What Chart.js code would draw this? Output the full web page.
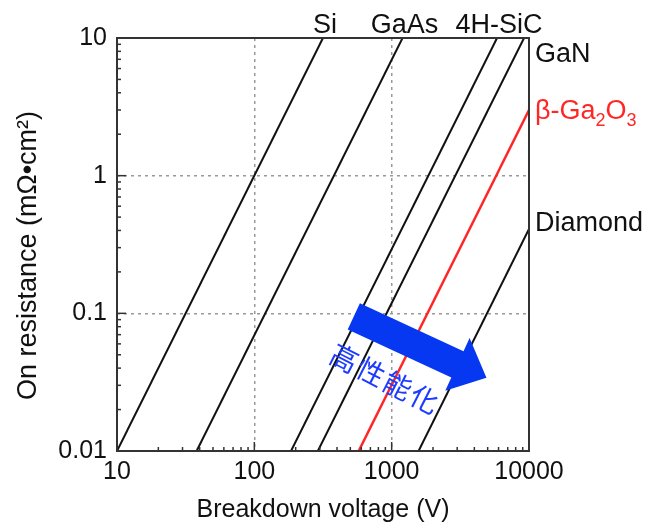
<!DOCTYPE html>
<html>
<head>
<meta charset="utf-8">
<script src="https://cdn.jsdelivr.net/npm/chart.js@4.4.1/dist/chart.umd.min.js"></script>
<style>
  html, body { margin: 0; padding: 0; background: #fff; }
  #wrap { width: 646px; height: 527px; }
</style>
</head>
<body>
<div id="wrap"><canvas id="chart"></canvas></div>
<script>
// Unipolar limit lines: start and end of each line
const materials = ['Si', 'GaAs', '4H-SiC', 'GaN', 'β-Ga2O3', 'Diamond'];
const startV = [10, 38, 185, 290, 575, 1570];      // V
const startR = [0.01, 0.01, 0.01, 0.01, 0.01, 0.01]; // mΩ·cm²
const endV = [316, 1200, 5850, 9200, 10000, 10000];
const endR = [10, 10, 10, 10, 3.0, 0.41];

const xTicks = [10, 100, 1000, 10000];
const yTicks = [0.01, 0.1, 1, 10];

// the blue "improvement" arrow and its caption, in data units
const arrowFrom = [530, 0.095];
const arrowTo = [4900, 0.034];
const arrowText = '高性能化';
const arrowTextAt = [900, 0.0334];

const RED = '#ff2626';
const INK = '#111';
const BLUE = '#0638f2';
const FONT = "'Liberation Sans', Arial, sans-serif";

Chart.defaults.font.family = FONT;
Chart.defaults.font.size = 25;
Chart.defaults.color = INK;

const datasets = materials.map((m, i) => ({
    label: m,
    data: [{ x: startV[i], y: startR[i] }, { x: endV[i], y: endR[i] }],
    borderColor: m.startsWith('β') ? RED : INK,
    borderWidth: m.startsWith('β') ? 2.5 : 2,
    pointRadius: 0,
    showLine: true,
    fill: false
}));

const extras = {
    id: 'extras',
    afterDatasetsDraw(chart) {
        const ctx = chart.ctx;
        const xs = chart.scales.x, ys = chart.scales.y;
        const a = chart.chartArea;

        // minor + major ticks on the inside of left and bottom axes
        ctx.save();
        ctx.strokeStyle = '#333';
        ctx.lineWidth = 1.5;
        for (let d = 10; d < 10000; d *= 10) {
            for (let m = 1; m < 10; m++) {
                const px = xs.getPixelForValue(d * m);
                const len = m === 1 ? 9 : 4;
                ctx.beginPath();
                ctx.moveTo(px, a.bottom);
                ctx.lineTo(px, a.bottom - len);
                ctx.stroke();
            }
        }
        for (let d = 0.01; d < 10; d *= 10) {
            for (let m = 1; m < 10; m++) {
                const py = ys.getPixelForValue(d * m);
                const len = m === 1 ? 9 : 4;
                ctx.beginPath();
                ctx.moveTo(a.left, py);
                ctx.lineTo(a.left + len, py);
                ctx.stroke();
            }
        }
        // plot frame
        ctx.lineWidth = 2;
        ctx.strokeRect(a.left, a.top, a.right - a.left, a.bottom - a.top);
        ctx.restore();

        // arrow
        const x0 = xs.getPixelForValue(arrowFrom[0]), y0 = ys.getPixelForValue(arrowFrom[1]);
        const x1 = xs.getPixelForValue(arrowTo[0]), y1 = ys.getPixelForValue(arrowTo[1]);
        const ang = Math.atan2(y1 - y0, x1 - x0);
        const L = Math.hypot(x1 - x0, y1 - y0);
        const sw = 14.5, hw = 29, hl = 32;
        ctx.save();
        ctx.translate(x0, y0);
        ctx.rotate(ang);
        ctx.fillStyle = BLUE;
        ctx.beginPath();
        ctx.moveTo(0, -sw);
        ctx.lineTo(L - hl, -sw);
        ctx.lineTo(L - hl, -hw);
        ctx.lineTo(L, 0);
        ctx.lineTo(L - hl, hw);
        ctx.lineTo(L - hl, sw);
        ctx.lineTo(0, sw);
        ctx.closePath();
        ctx.fill();
        ctx.restore();

        // caption
        ctx.save();
        ctx.translate(xs.getPixelForValue(arrowTextAt[0]), ys.getPixelForValue(arrowTextAt[1]));
        ctx.rotate(27 * Math.PI / 180);
        ctx.fillStyle = '#1c3cff';
        ctx.font = "28px 'Noto Sans CJK JP'";
        ctx.textAlign = 'center';
        ctx.textBaseline = 'middle';
        if ('letterSpacing' in ctx) ctx.letterSpacing = '2px';
        ctx.fillText(arrowText, 0, 0);
        ctx.restore();

        // y axis title (drawn here so it can sit a little below centre like the original)
        ctx.save();
        ctx.translate(29, (a.top + a.bottom) / 2 + 11);
        ctx.rotate(-Math.PI / 2);
        ctx.font = '27px ' + FONT;
        ctx.fillStyle = INK;
        ctx.textAlign = 'center';
        ctx.textBaseline = 'middle';
        ctx.fillText('On resistance (mΩ•cm²)', 0, 0);
        ctx.restore();

        // material labels
        ctx.save();
        ctx.textBaseline = 'alphabetic';
        const rightDy = { 'GaN': 24, 'β-Ga2O3': 9, 'Diamond': 2 };
        materials.forEach((m, i) => {
            ctx.font = '27px ' + FONT;
            const ex = xs.getPixelForValue(endV[i]);
            const ey = ys.getPixelForValue(endR[i]);
            if (endV[i] < 8000) {
                ctx.fillStyle = INK;
                ctx.textAlign = 'center';
                ctx.fillText(m, ex + 2, a.top - 5);
                return;
            }
            const lx = a.right + 6, ly = ey + rightDy[m];
            ctx.textAlign = 'left';
            if (m.startsWith('β')) {
                ctx.fillStyle = RED;
                let x = lx;
                const parts = [['β-Ga', 0], ['2', 1], ['O', 0], ['3', 1]];
                parts.forEach(([t, sub]) => {
                    ctx.font = (sub ? '18px ' : '27px ') + FONT;
                    ctx.fillText(t, x, ly + (sub ? 7 : 0));
                    x += ctx.measureText(t).width;
                });
            } else {
                ctx.fillStyle = INK;
                ctx.fillText(m, lx, ly);
            }
        });
        ctx.restore();
    }
};

new Chart(document.getElementById('chart'), {
    type: 'scatter',
    data: { datasets },
    options: {
        responsive: true,
        maintainAspectRatio: false,
        animation: false,
        layout: { padding: { top: 38, right: 117, left: 0, bottom: 0 } },
        plugins: { legend: { display: false }, tooltip: { enabled: false } },
        scales: {
            x: {
                type: 'logarithmic',
                min: 10, max: 10000,
                afterBuildTicks: s => { s.ticks = xTicks.map(v => ({ value: v })); },
                afterFit: s => { s.height = 76; },
                ticks: { padding: 6, autoSkip: false, maxRotation: 0, callback: v => String(v) },
                grid: {
                    drawTicks: false,
                    color: c => (c.tick && (c.tick.value === 10 || c.tick.value === 10000)) ? 'rgba(0,0,0,0)' : '#999',
                    lineWidth: 1.5
                },
                border: { display: false, dash: [3, 4] },
                title: { display: true, text: 'Breakdown voltage (V)', padding: { top: 0, bottom: 2 } }
            },
            y: {
                type: 'logarithmic',
                min: 0.01, max: 10,
                afterBuildTicks: s => { s.ticks = yTicks.map(v => ({ value: v })); },
                afterFit: s => { s.width = 117; },
                ticks: { padding: 10, autoSkip: false, callback: v => String(v) },
                grid: {
                    drawTicks: false,
                    color: c => (c.tick && (c.tick.value === 0.01 || c.tick.value === 10)) ? 'rgba(0,0,0,0)' : '#999',
                    lineWidth: 1.5
                },
                border: { display: false, dash: [3, 4] },
                title: { display: false }
            }
        }
    },
    plugins: [extras]
});
</script>
</body>
</html>
